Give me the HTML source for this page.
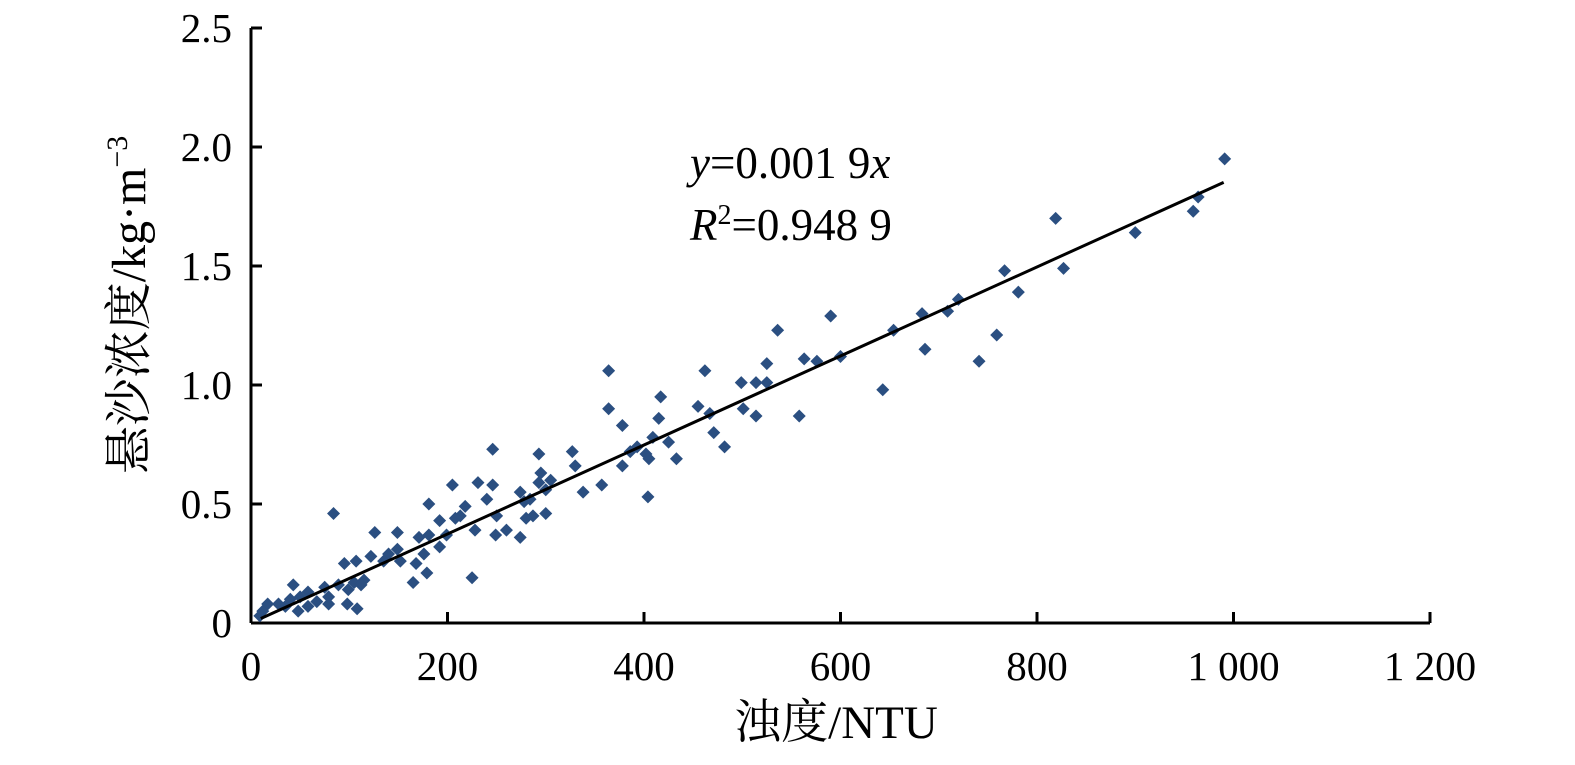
<!DOCTYPE html>
<html><head><meta charset="utf-8"><style>
body{margin:0;background:#fff}
svg text{font-family:"Liberation Serif","Noto Serif CJK SC",serif;fill:#000}
</style></head><body>
<svg width="1575" height="760" id="c">
<g id="axes"></g><g id="pts"></g><g id="fit"></g>
<text x="690" y="178" font-size="45"><tspan font-style="italic">y</tspan>=0.001 9<tspan font-style="italic">x</tspan></text>
<text x="690" y="240" font-size="45"><tspan font-style="italic">R</tspan><tspan font-size="28" dy="-16">2</tspan><tspan dy="16">=0.948 9</tspan></text>
<text x="836" y="738" font-size="47" text-anchor="middle">浊度/NTU</text>
<text transform="translate(145,305) rotate(-90)" font-size="48" text-anchor="middle">悬沙浓度/kg·m<tspan font-size="30" dy="-18">−3</tspan></text>
</svg>
<script>
const xTicks=[0,200,400,600,800,1000,1200];
const xTickLabels=["0","200","400","600","800","1 000","1 200"];
const yTicks=[0,0.5,1.0,1.5,2.0,2.5];
const yTickLabels=["0","0.5","1.0","1.5","2.0","2.5"];
const turbidity=[991,964,959,900,819,827,767,781,720,709,683,686,759,741,643,654,590,600,576,563,558,536,525,525,514,499,501,514,462,455,467,471,482,417,415,425,433,409,405,402,404,393,386,364,364,378,378,357,327,330,338,305,293,293,295,300,300,287,284,274,278,280,274,260,250,249,246,246,240,231,228,225,218,213,208,205,199,192,192,181,181,179,176,171,168,165,149,149,152,140,126,122,115,107,108,84,95,99,98,89,79,75,67,58,50,43,40,35,28,17,12,9,48,58,79,105,112,135];
const ssc=[1.95,1.79,1.73,1.64,1.70,1.49,1.48,1.39,1.36,1.31,1.30,1.15,1.21,1.10,0.98,1.23,1.29,1.12,1.10,1.11,0.87,1.23,1.09,1.01,1.01,1.01,0.90,0.87,1.06,0.91,0.88,0.80,0.74,0.95,0.86,0.76,0.69,0.78,0.69,0.71,0.53,0.74,0.72,1.06,0.90,0.83,0.66,0.58,0.72,0.66,0.55,0.60,0.59,0.71,0.63,0.56,0.46,0.45,0.52,0.55,0.51,0.44,0.36,0.39,0.45,0.37,0.73,0.58,0.52,0.59,0.39,0.19,0.49,0.45,0.44,0.58,0.37,0.43,0.32,0.50,0.37,0.21,0.29,0.36,0.25,0.17,0.31,0.38,0.26,0.29,0.38,0.28,0.18,0.26,0.06,0.46,0.25,0.14,0.08,0.16,0.11,0.15,0.09,0.13,0.11,0.16,0.10,0.07,0.08,0.08,0.05,0.03,0.05,0.07,0.08,0.17,0.16,0.26];
const fitSlope=[0.00187];
const fitRange=[10,990];
const NS="http://www.w3.org/2000/svg";
const X=v=>251+v*0.9825, Y=v=>623-v*238;
function mk(t,a,p){const e=document.createElementNS(NS,t);for(const k in a)e.setAttribute(k,a[k]);p.appendChild(e);return e;}
const ax=document.getElementById('axes');
let yl=mk('line',{x1:251,y1:Y(2.5),x2:251,y2:623,stroke:'#000','stroke-width':3},ax);


let xl=mk('line',{x1:251,y1:623,x2:X(1200),y2:623,stroke:'#000','stroke-width':3},ax);


xTicks.forEach((v,i)=>{
 let t=mk('line',{x1:X(v),y1:623,x2:X(v),y2:612,stroke:'#000','stroke-width':3},ax);
 
 
 let l=mk('text',{x:X(v),y:680,'font-size':41,'text-anchor':'middle'},ax);l.textContent=xTickLabels[i];
 
 
});
yTicks.forEach((v,i)=>{
 let t=mk('line',{x1:251,y1:Y(v),x2:262,y2:Y(v),stroke:'#000','stroke-width':3},ax);
 
 
 let l=mk('text',{x:232,y:Y(v)+14,'font-size':41,'text-anchor':'end'},ax);l.textContent=yTickLabels[i];
 
 
});
const pg=document.getElementById('pts');
turbidity.forEach((v,i)=>{
 const cx=X(v),cy=Y(ssc[i]),r=6.5;
 let p=mk('polygon',{points:`${cx},${cy-r} ${cx+r},${cy} ${cx},${cy+r} ${cx-r},${cy}`,fill:'#2b4f81'},pg);
 
 
});
let fl=mk('line',{x1:X(fitRange[0]),y1:Y(fitRange[0]*fitSlope[0]),x2:X(fitRange[1]),y2:Y(fitRange[1]*fitSlope[0]),stroke:'#000','stroke-width':3},document.getElementById('fit'));


</script>
</body></html>
